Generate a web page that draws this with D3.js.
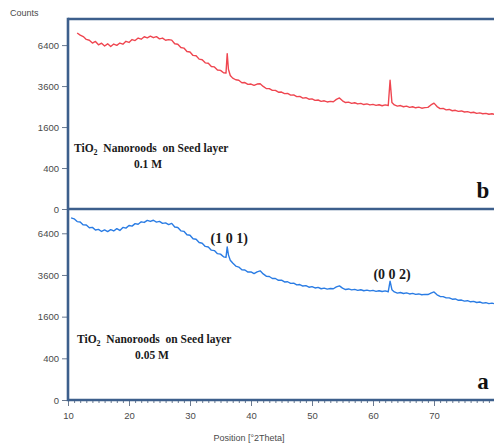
<!DOCTYPE html>
<html>
<head>
<meta charset="utf-8">
<script src="https://cdn.jsdelivr.net/npm/d3@7"></script>
<style>
  html, body { margin: 0; padding: 0; background: #fff; }
</style>
</head>
<body>
<div id="chart"></div>
<script>
// Scan positions (°2Theta), shared by both patterns
const twoTheta = [
  10.5, 11, 11.5, 12, 12.5, 13, 13.5, 14, 14.5, 15, 15.5, 16, 16.5, 17, 17.5, 18, 18.5, 19, 19.5, 20,
  20.5, 21, 21.5, 22, 22.5, 23, 23.5, 24, 24.5, 25, 25.5, 26, 26.5, 27, 27.5, 28, 28.5, 29, 29.5, 30,
  30.5, 31, 31.5, 32, 32.5, 33, 33.5, 34, 34.5, 35, 35.5,
  35.9, 36.1, 36.3, 36.6,
  37, 37.5, 38, 38.5, 39, 39.5, 40, 40.5, 41, 41.5, 42, 42.5, 43, 43.5, 44, 44.5, 45, 45.5, 46, 46.5,
  47, 47.5, 48, 48.5, 49, 49.5, 50, 50.5, 51, 51.5, 52, 52.5, 53, 53.5, 54, 54.5, 55, 55.5, 56, 56.5,
  57, 57.5, 58, 58.5, 59, 59.5, 60, 60.5, 61, 61.5, 62, 62.5,
  62.8, 63.1,
  63.5, 64, 64.5, 65, 65.5, 66, 66.5, 67, 67.5, 68, 68.5, 69, 69.5, 70, 70.5, 71, 71.5, 72, 72.5, 73,
  73.5, 74, 74.5, 75, 75.5, 76, 76.5, 77, 77.5, 78, 78.5, 79, 79.5, 80
];

// (b) TiO2 nanorods, 0.1 M
const countsB = [
  null, null, 7380, 7200, 7080, 6850, 6780, 6560, 6690, 6420, 6550, 6330, 6500, 6290, 6480, 6380, 6560, 6470, 6700, 6610,
  6840, 6760, 6960, 6870, 7070, 6980, 7120, 6990, 7080, 6900, 6960, 6780, 6830, 6790, 6500, 6470, 6210, 6170, 5910, 5870,
  5620, 5590, 5350, 5310, 5090, 5060, 4840, 4810, 4600, 4580, 4420,
  4400, 5750, 4650, 4250,
  4080, 3980, 3950, 3800, 3810, 3700, 3720, 3640, 3720, 3740, 3580, 3460, 3450, 3350, 3350, 3250, 3260, 3170, 3180, 3090,
  3100, 3010, 3020, 2930, 2950, 2870, 2890, 2810, 2830, 2760, 2790, 2730, 2760, 2740, 2860, 2940, 2790, 2700, 2720, 2660,
  2690, 2630, 2660, 2600, 2630, 2580, 2610, 2560, 2590, 2540, 2580, 2550,
  3950, 2700,
  2580, 2520, 2550, 2490, 2520, 2460, 2490, 2440, 2470, 2420, 2450, 2460, 2580, 2670, 2500, 2400, 2410, 2340, 2360, 2300,
  2320, 2270, 2290, 2240, 2260, 2210, 2230, 2180, 2200, 2160, 2180, 2140, 2160, 2130
];

// (a) TiO2 nanorods, 0.05 M
const countsA = [
  7640, 7560, 7330, 7300, 7060, 7050, 6830, 6860, 6650, 6700, 6540, 6660, 6530, 6680, 6580, 6760, 6620, 6860, 6800, 7010,
  6960, 7160, 7110, 7310, 7260, 7430, 7340, 7440, 7290, 7350, 7180, 7220, 7080, 7180, 6890, 6850, 6590, 6550, 6290, 6250,
  5990, 5950, 5710, 5660, 5430, 5390, 5170, 5140, 4930, 4900, 4720,
  4680, 5400, 4850, 4500,
  4320, 4130, 4070, 3900, 3890, 3770, 3780, 3680, 3780, 3840, 3660, 3530, 3510, 3400, 3400, 3300, 3310, 3210, 3220, 3130,
  3140, 3050, 3070, 2990, 3010, 2930, 2960, 2890, 2920, 2850, 2880, 2830, 2860, 2850, 2950, 3000, 2880, 2810, 2840, 2790,
  2820, 2770, 2800, 2750, 2780, 2740, 2770, 2720, 2750, 2710, 2740, 2700,
  3250, 2800,
  2690, 2630, 2660, 2610, 2640, 2590, 2620, 2570, 2590, 2550, 2570, 2560, 2630, 2690, 2550, 2470, 2460, 2400, 2400, 2340,
  2350, 2290, 2300, 2250, 2270, 2220, 2240, 2190, 2210, 2160, 2180, 2140, 2160, 2130
];

const yTicks = [0, 400, 1600, 3600, 6400];
const xTicks = [10, 20, 30, 40, 50, 60, 70];
const xMinorTicks = d3.range(10, 81, 1);

const peakLabels = [
  {text: "(1 0 1)", at: 36.1, counts: 5700},
  {text: "(0 0 2)", at: 62.8, counts: 3380}
];

const panels = [
  {id: "b", counts: countsB, color: "#ef4650", top: 19, bottom: 209, yMax: 8600, molarity: "0.1 M"},
  {id: "a", counts: countsA, color: "#2a7ce4", top: 209, bottom: 400, yMax: 8400, molarity: "0.05 M"}
];

const width = 494, height = 445;
const left = 68, right = 500;
const frameColor = "#3d5f8c";
const sansFont = "'Liberation Sans Narrow', 'Arial Narrow', 'Liberation Sans', Arial, sans-serif";
const serifFont = "'Liberation Serif', 'Times New Roman', serif";

const svg = d3.select("#chart")
    .append("svg")
    .attr("width", width)
    .attr("height", height);

const x = d3.scaleLinear()
    .domain([10, 80])
    .range([left, 495]);

panels.forEach(p => {
    const y = d3.scaleSqrt()
        .domain([0, p.yMax])
        .range([p.bottom, p.top]);

    // y axis ticks and labels
    const yAxis = svg.append("g")
        .attr("transform", `translate(${left},0)`)
        .call(d3.axisLeft(y).tickValues(yTicks).tickFormat(d3.format("d"))
            .tickSize(6).tickPadding(3).tickSizeOuter(0));
    yAxis.select(".domain").remove();
    yAxis.selectAll("line").attr("stroke", "#6b7a90");
    yAxis.selectAll("text")
        .attr("fill", "#4a4a4a")
        .style("font-family", sansFont)
        .style("font-size", "9.5px");

    // diffraction pattern
    const line = d3.line()
        .defined(d => d[1] != null)
        .x(d => x(d[0]))
        .y(d => y(d[1]));
    svg.append("path")
        .datum(twoTheta.map((t, i) => [t, p.counts[i]]))
        .attr("fill", "none")
        .attr("stroke", p.color)
        .attr("stroke-width", 1.4)
        .attr("stroke-linejoin", "round")
        .attr("d", line);

    // sample caption
    const cap = svg.append("text")
        .attr("x", p.id === "b" ? 74 : 77)
        .attr("y", p.bottom - 57)
        .style("font-family", serifFont)
        .style("font-weight", "bold")
        .style("font-size", "11.5px")
        .attr("fill", "#1a1a1a");
    cap.append("tspan").text("TiO");
    cap.append("tspan").text("2").attr("dy", 3).style("font-size", "8px");
    cap.append("tspan").text("  Nanoroods  on Seed layer").attr("dy", -3).attr("xml:space", "preserve");
    svg.append("text")
        .attr("x", p.id === "b" ? 148 : 152)
        .attr("y", p.bottom - 41)
        .attr("text-anchor", "middle")
        .style("font-family", serifFont)
        .style("font-weight", "bold")
        .style("font-size", "11.5px")
        .attr("fill", "#1a1a1a")
        .text(p.molarity);

    // panel letter
    svg.append("text")
        .attr("x", 483)
        .attr("y", p.bottom - 11)
        .attr("text-anchor", "middle")
        .style("font-family", serifFont)
        .style("font-weight", "bold")
        .style("font-size", "23px")
        .attr("fill", "#111")
        .text(p.id);

    if (p.id === "a") {
        svg.append("g")
            .selectAll("text")
            .data(peakLabels)
            .enter()
            .append("text")
            .attr("x", d => x(d.at) + 2)
            .attr("y", d => y(d.counts))
            .attr("text-anchor", "middle")
            .style("font-family", serifFont)
            .style("font-weight", "bold")
            .style("font-size", "14px")
            .attr("fill", "#1a1a1a")
            .text(d => d.text);
    }
});

// x axis: minor then major ticks
const xMinor = svg.append("g")
    .attr("transform", "translate(0,400)")
    .call(d3.axisBottom(x).tickValues(xMinorTicks).tickSize(3).tickFormat(""));
xMinor.select(".domain").remove();
xMinor.selectAll("line").attr("stroke", "#6b7a90");

const xAxis = svg.append("g")
    .attr("transform", "translate(0,400)")
    .call(d3.axisBottom(x).tickValues(xTicks).tickSize(6).tickPadding(6));
xAxis.select(".domain").remove();
xAxis.selectAll("line").attr("stroke", "#6b7a90");
xAxis.selectAll("text")
    .attr("fill", "#4a4a4a")
    .style("font-family", sansFont)
    .style("font-size", "9.5px");

// frame
const frame = svg.append("g")
    .attr("stroke", frameColor)
    .attr("stroke-width", 2.6)
    .attr("fill", "none");
[19, 209, 400].forEach(yy => {
    frame.append("line").attr("x1", left).attr("x2", right).attr("y1", yy).attr("y2", yy);
});
frame.append("line").attr("x1", left).attr("x2", left).attr("y1", 17.7).attr("y2", 401.3);

// axis titles
svg.append("text")
    .attr("x", 10)
    .attr("y", 16)
    .style("font-family", sansFont)
    .style("font-size", "9px")
    .attr("fill", "#4a4a4a")
    .text("Counts");
svg.append("text")
    .attr("x", 249)
    .attr("y", 441)
    .attr("text-anchor", "middle")
    .style("font-family", sansFont)
    .style("font-size", "9px")
    .attr("fill", "#4a4a4a")
    .text("Position [°2Theta]");
</script>
</body>
</html>
